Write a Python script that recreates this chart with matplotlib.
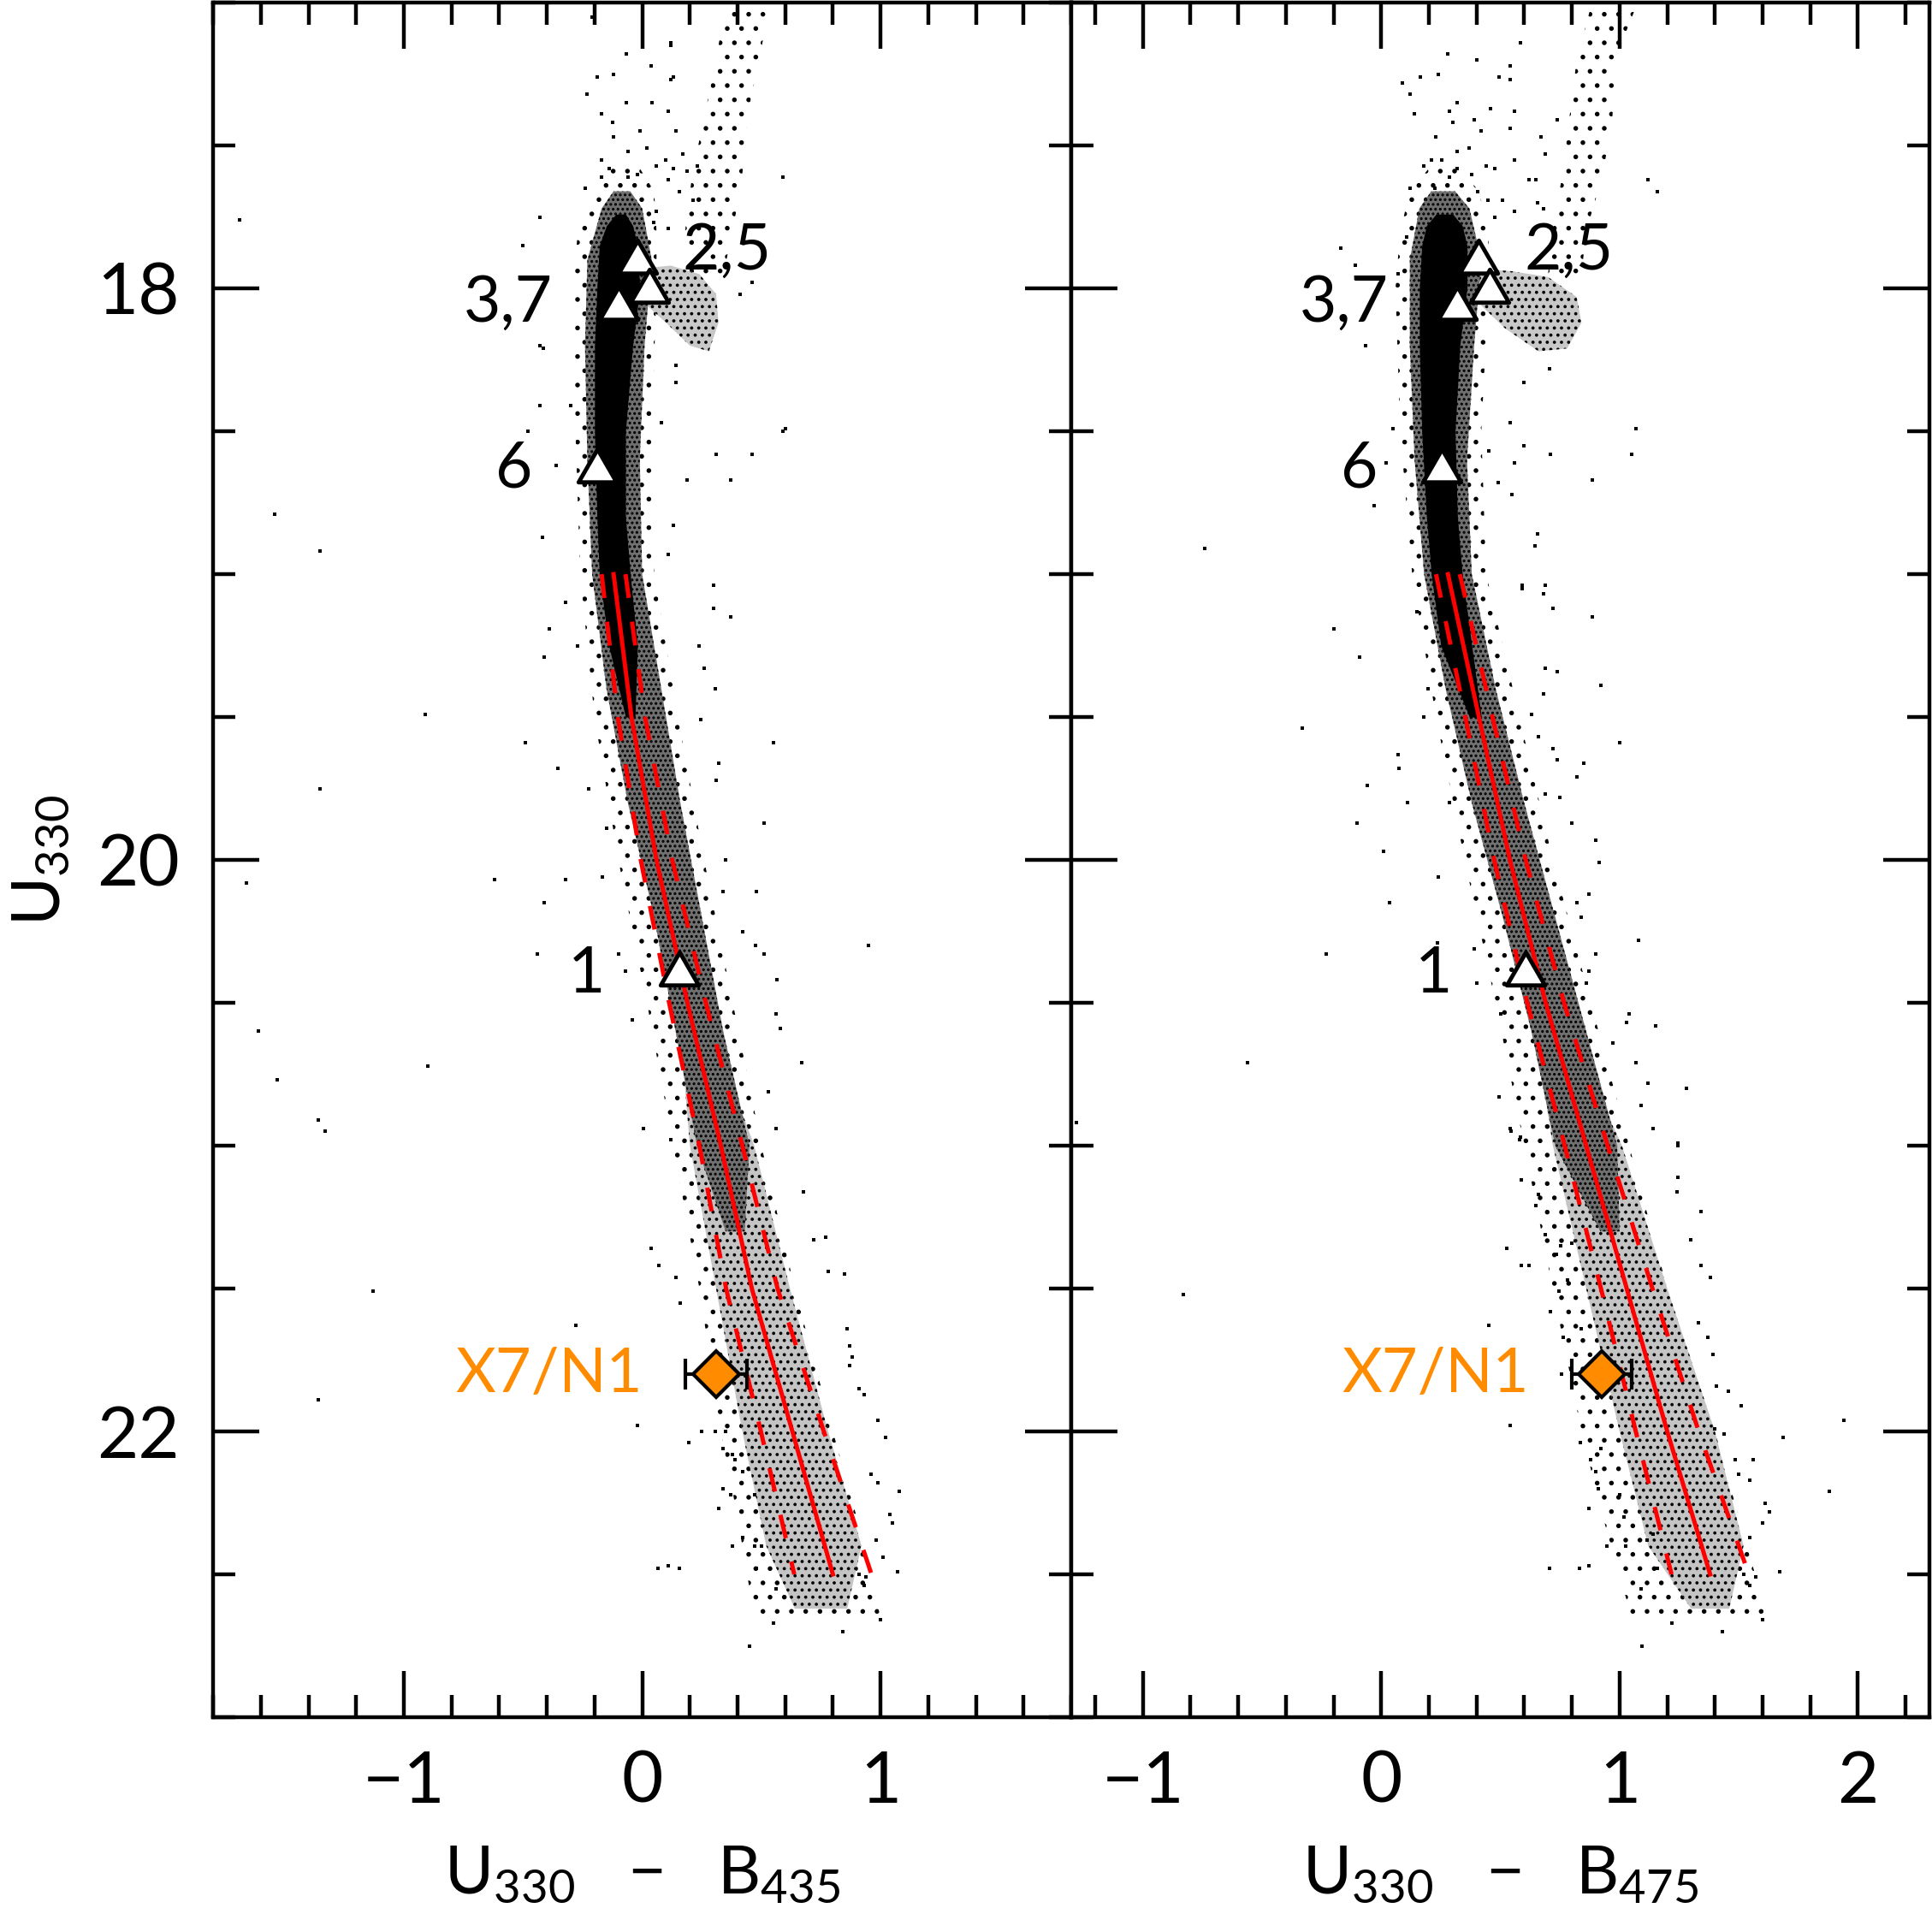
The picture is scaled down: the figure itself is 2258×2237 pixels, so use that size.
import matplotlib
matplotlib.use("Agg")
import matplotlib.pyplot as plt
from matplotlib.path import Path
from matplotlib.ticker import MultipleLocator

plt.rcParams['font.family'] = ['Lato', 'DejaVu Sans']
plt.rcParams['mathtext.fontset'] = 'custom'
plt.rcParams['mathtext.rm'] = 'Lato'
plt.rcParams['mathtext.default'] = 'regular'
plt.rcParams['hatch.linewidth'] = 1.5

ORANGE = '#ff8c00'

# ---------------- data ----------------
# fiducial main-sequence ridge line and its +/- width (dashed)
fid_mag = [19.0, 19.5, 20.0, 20.5, 21.0, 21.5, 22.0, 22.5]
fid_435 = [-0.12, -0.045, 0.06, 0.19, 0.33, 0.46, 0.63, 0.80]
fid_475 = [0.28, 0.41, 0.54, 0.69, 0.86, 1.03, 1.20, 1.38]
fid_width = [0.05, 0.057, 0.066, 0.077, 0.09, 0.108, 0.132, 0.162]

# stellar sequence envelopes: saturated core, dense band, lower band, sparse halo
core_mag = [17.74, 17.78, 17.85, 18.0, 18.2, 18.5, 18.8, 19.0, 19.25, 19.5]
core_lo_435 = [-0.11, -0.15, -0.18, -0.19, -0.20, -0.20, -0.19, -0.18, -0.14, -0.07]
core_hi_435 = [-0.07, -0.04, -0.02, -0.01, -0.04, -0.07, -0.07, -0.05, -0.02, -0.03]
core_lo_475 = [0.23, 0.19, 0.17, 0.16, 0.16, 0.17, 0.19, 0.21, 0.25, 0.37]
core_hi_475 = [0.30, 0.34, 0.36, 0.36, 0.33, 0.31, 0.32, 0.34, 0.38, 0.42]

band_mag = [17.66, 17.72, 17.9, 18.2, 18.6, 19.0, 19.4, 19.8, 20.2, 20.6, 21.0, 21.3]
band_lo_435 = [-0.12, -0.17, -0.23, -0.24, -0.23, -0.21, -0.15, -0.06, 0.05, 0.14, 0.23, 0.35]
band_hi_435 = [-0.05, 0.00, 0.04, 0.01, -0.01, 0.00, 0.08, 0.16, 0.25, 0.34, 0.45, 0.43]
band_lo_475 = [0.21, 0.16, 0.12, 0.12, 0.14, 0.18, 0.27, 0.38, 0.51, 0.63, 0.73, 0.92]
band_hi_475 = [0.31, 0.37, 0.42, 0.39, 0.36, 0.38, 0.48, 0.60, 0.73, 0.86, 0.99, 1.00]

low_mag = [20.5, 21.0, 21.5, 22.0, 22.4, 22.62]
low_lo_435 = [0.15, 0.20, 0.31, 0.42, 0.52, 0.64]
low_hi_435 = [0.25, 0.47, 0.62, 0.78, 0.92, 0.86]
low_lo_475 = [0.63, 0.72, 0.86, 1.00, 1.12, 1.30]
low_hi_475 = [0.74, 1.01, 1.20, 1.40, 1.52, 1.46]

halo_mag = [17.58, 17.66, 17.8, 18.0, 18.5, 19.0, 19.5, 20.0, 20.5, 21.0, 21.5, 22.0, 22.3, 22.65]
halo_lo_435 = [-0.13, -0.21, -0.27, -0.29, -0.28, -0.26, -0.20, -0.10, 0.02, 0.13, 0.24, 0.33, 0.40, 0.47]
halo_hi_435 = [-0.01, 0.05, 0.06, 0.06, 0.04, 0.05, 0.15, 0.26, 0.38, 0.50, 0.64, 0.80, 0.90, 1.00]
halo_lo_475 = [0.20, 0.12, 0.08, 0.06, 0.08, 0.13, 0.23, 0.35, 0.48, 0.60, 0.72, 0.84, 0.93, 1.05]
halo_hi_475 = [0.33, 0.41, 0.45, 0.45, 0.42, 0.44, 0.58, 0.72, 0.88, 1.04, 1.20, 1.40, 1.50, 1.62]

# sub-giant clump outline
sgb_c_435 = [0.00, 0.12, 0.24, 0.31, 0.32, 0.28, 0.20, 0.10, 0.02]
sgb_m_435 = [17.93, 17.92, 17.95, 18.02, 18.12, 18.22, 18.20, 18.12, 18.06]
sgb_c_475 = [0.40, 0.55, 0.70, 0.82, 0.84, 0.78, 0.66, 0.52, 0.42]
sgb_m_475 = [17.93, 17.94, 17.96, 18.03, 18.12, 18.21, 18.22, 18.14, 18.06]

# giant branch band
gb_mag = [16.95, 17.2, 17.4, 17.6, 17.8, 17.95]
gb_lo_435 = [0.36, 0.31, 0.26, 0.21, 0.18, 0.20]
gb_hi_435 = [0.55, 0.49, 0.44, 0.42, 0.38, 0.34]
gb_lo_475 = [0.90, 0.82, 0.79, 0.76, 0.72, 0.70]
gb_hi_475 = [1.10, 0.98, 0.97, 0.93, 0.86, 0.84]

# individual stars outside the envelopes
stars_435 = [
    (-0.066, 17.18), (0.036, 17.22), (0.12, 17.15), (0.13, 17.26), (-0.12, 17.25),
    (-0.19, 17.26), (-0.23, 17.32), (-0.066, 17.35), (0.04, 17.35), (0.11, 17.38),
    (0.14, 17.45), (-0.01, 17.45), (-0.125, 17.42), (-0.17, 17.39), (-0.12, 17.47),
    (0.02, 17.51), (-0.06, 17.52), (0.17, 17.53), (-0.17, 17.55), (-0.14, 17.58),
    (-0.17, 17.61), (-0.06, 17.61), (-0.02, 17.60), (0.06, 17.57), (0.10, 17.55),
    (0.13, 17.58), (0.19, 17.59), (0.23, 17.57), (0.11, 17.62), (0.155, 17.66),
    (0.215, 17.69), (0.06, 17.73), (0.05, 17.77), (0.11, 17.79), (-0.24, 17.65),
    (-0.43, 17.75), (-0.50, 17.85), (0.59, 17.61), (0.60, 18.49), (0.31, 18.58),
    (0.46, 18.58), (0.37, 18.67), (0.19, 18.67), (0.13, 18.83), (0.11, 18.93),
    (-0.42, 18.87), (-0.43, 18.41), (-0.48, 18.50), (-0.43, 18.20), (-0.30, 18.41),
    (-0.36, 18.62), (0.14, 18.27), (0.14, 18.33), (0.08, 18.47), (0.46, 17.98),
    (0.41, 18.02), (-1.69, 17.76), (-0.415, 18.21), (-0.21, 17.05), (0.12, 17.14),
    (0.12, 17.27), (0.59, 18.50),
    (-0.39, 19.19), (-0.41, 19.29), (-0.32, 19.10), (-0.27, 19.25), (-0.355, 19.68),
    (-0.32, 20.07), (-0.41, 20.15), (-0.44, 20.33), (-0.167, 20.06), (-0.225, 19.75),
    (-0.15, 19.89), (0.30, 19.04), (0.30, 19.12), (0.37, 19.15), (0.24, 19.25),
    (0.26, 19.33), (0.305, 19.40), (0.245, 19.51), (0.55, 19.59), (0.32, 19.66),
    (0.31, 19.72), (0.51, 19.87), (0.35, 20.00), (0.48, 20.11), (0.34, 20.11),
    (0.42, 20.25), (0.475, 20.30), (0.51, 20.33), (0.565, 20.42), (0.56, 20.54),
    (0.58, 20.59), (0.67, 20.71), (0.53, 20.81), (0.56, 20.94), (0.006, 20.94),
    (0.12, 20.98), (-0.04, 20.56), (-0.10, 20.33), (-0.07, 20.39),
    (-1.54, 18.79), (-1.35, 18.92), (-0.91, 19.49), (-0.49, 19.59), (-0.62, 20.07),
    (-1.66, 20.08), (-1.35, 19.75), (-1.61, 20.60), (-1.53, 20.77), (-1.36, 20.91),
    (-1.33, 20.95), (-0.90, 20.72), (-1.13, 21.51), (-1.36, 21.89), (0.95, 20.30),
    (0.036, 21.36), (0.07, 21.42), (0.14, 21.46), (0.16, 21.55), (-0.28, 21.63),
    (-0.02, 21.98), (0.195, 22.04), (0.25, 22.00), (0.305, 22.00), (0.35, 22.00),
    (0.34, 22.06), (0.38, 22.08), (0.39, 22.10), (0.42, 22.14), (0.34, 22.20),
    (0.37, 22.22), (0.32, 22.27), (0.47, 22.22), (0.38, 22.40), (0.42, 22.37),
    (0.47, 22.40), (0.50, 22.40), (0.066, 22.48), (0.11, 22.47), (0.155, 22.48),
    (0.48, 22.48), (0.56, 22.55), (0.55, 22.67), (0.45, 22.75), (0.84, 22.70),
    (1.00, 22.66), (0.93, 22.54), (0.91, 22.50), (0.94, 22.51), (1.07, 22.49),
    (1.01, 22.44), (1.08, 22.21), (1.04, 22.29), (1.05, 22.32), (0.99, 22.18),
    (0.96, 22.15), (0.98, 22.38), (1.02, 22.02), (0.99, 21.96), (0.87, 21.77),
    (0.88, 21.74), (0.87, 21.70), (0.86, 21.64), (0.85, 21.45), (0.78, 21.44),
    (0.77, 21.32), (0.72, 21.33), (0.675, 21.16), (0.93, 21.87), (0.91, 21.85),
]
stars_475 = [
    (0.09, 17.28), (0.165, 17.26), (0.24, 17.25), (0.28, 17.18), (0.40, 17.20),
    (0.495, 17.26), (0.54, 17.27), (0.54, 17.22), (0.585, 17.14), (0.12, 17.32),
    (0.14, 17.39), (0.285, 17.38), (0.32, 17.35), (0.39, 17.41), (0.46, 17.37),
    (0.56, 17.38), (0.54, 17.44), (0.42, 17.45), (0.30, 17.42), (0.23, 17.47),
    (0.37, 17.51), (0.32, 17.52), (0.255, 17.55), (0.21, 17.55), (0.18, 17.57),
    (0.285, 17.61), (0.32, 17.58), (0.38, 17.60), (0.44, 17.57), (0.477, 17.58),
    (0.56, 17.55), (0.62, 17.62), (0.65, 17.62), (0.687, 17.53), (0.67, 17.47),
    (0.74, 17.41), (0.12, 17.65), (0.225, 17.65), (0.405, 17.66), (0.447, 17.69),
    (0.507, 17.69), (0.477, 17.75), (0.56, 17.73), (0.657, 17.70), (0.68, 17.72),
    (0.105, 17.82), (-0.17, 17.86), (-0.11, 17.92), (0.07, 17.95), (-0.065, 18.20),
    (1.12, 17.62), (1.16, 17.66), (1.07, 18.49), (1.05, 18.58), (0.885, 18.67),
    (0.71, 18.58), (0.60, 18.55), (0.54, 18.47), (0.60, 18.33), (0.705, 18.28),
    (0.657, 18.86), (0.645, 18.90), (0.59, 19.04), (0.69, 19.04), (0.05, 18.49),
    (0.02, 18.61), (-0.03, 18.76), (0.45, 18.57), (0.49, 18.68), (0.55, 18.72),
    (0.56, 18.61),
    (-0.197, 19.19), (-0.09, 19.29), (-0.10, 19.87), (0.034, 20.15), (0.076, 19.68),
    (0.11, 19.80), (0.24, 20.06), (0.18, 19.50), (0.15, 19.13), (0.195, 19.40),
    (0.285, 19.80), (0.235, 20.29), (0.39, 20.31), (0.40, 20.43), (0.50, 20.54),
    (0.495, 20.83), (0.54, 20.94), (0.585, 20.97), (0.59, 19.05), (0.68, 19.07),
    (0.72, 19.12), (0.885, 19.15), (0.69, 19.33), (0.74, 19.34), (0.92, 19.39),
    (0.68, 19.42), (0.63, 19.49), (0.66, 19.57), (1.00, 19.59), (0.72, 19.61),
    (0.74, 19.65), (0.85, 19.66), (0.82, 19.71), (0.75, 19.78), (0.69, 19.77),
    (0.80, 19.87), (0.90, 19.93), (0.915, 20.01), (0.82, 20.15), (0.87, 20.12),
    (0.84, 20.20), (1.08, 20.28), (0.90, 20.33), (0.87, 20.39), (0.86, 20.43),
    (1.04, 20.54), (1.15, 20.58), (1.03, 20.57), (1.07, 20.71), (1.12, 20.78),
    (1.28, 20.80), (1.09, 20.86), (1.245, 20.99), (0.97, 20.64), (-0.23, 20.33),
    (-1.28, 20.92), (-0.83, 21.52), (-0.74, 18.91), (-0.56, 20.71), (-0.33, 19.54),
    (-0.06, 19.74), (0.01, 19.97), (0.07, 19.63), (1.94, 21.96), (1.61, 22.25),
    (0.545, 20.95), (0.58, 20.98), (0.587, 21.12), (0.66, 21.17), (0.65, 21.21),
    (0.69, 21.31), (0.527, 21.36), (0.587, 21.42), (0.62, 21.42), (0.735, 21.38),
    (0.753, 21.35), (0.80, 21.34), (0.78, 21.47), (0.745, 21.51), (0.71, 21.58),
    (0.765, 21.67), (0.84, 21.64), (0.45, 21.63), (0.755, 21.80), (0.54, 21.98),
    (0.835, 22.04), (0.92, 22.06), (0.88, 22.10), (0.90, 22.14), (0.91, 22.20),
    (0.87, 22.27), (0.999, 22.22), (1.02, 22.30), (0.945, 22.40), (1.025, 22.40),
    (0.705, 22.48), (0.83, 22.48), (0.87, 22.47), (1.09, 22.55), (1.16, 22.48),
    (1.115, 22.38), (1.14, 22.36), (1.22, 22.67), (1.095, 22.75), (1.43, 22.70),
    (1.60, 22.66), (1.545, 22.54), (1.57, 22.51), (1.52, 22.50), (1.67, 22.49),
    (1.63, 22.28), (1.60, 22.32), (1.545, 22.37), (1.545, 22.17), (1.50, 22.15),
    (1.56, 22.10), (1.485, 22.10), (1.88, 22.21), (1.685, 22.02), (1.51, 21.91),
    (1.44, 22.01), (1.40, 21.99), (1.455, 21.86), (1.405, 21.84), (1.39, 21.73),
    (1.37, 21.67), (1.33, 21.62), (1.34, 21.42), (1.38, 21.46), (1.34, 21.23),
    (1.30, 21.33), (1.245, 21.00), (1.245, 21.11), (1.24, 21.16), (1.14, 20.94),
]

# comparison stars (white triangles) and their labels
tri_mag = [20.38, 17.89, 18.05, 17.99, 18.62, 18.05]
tri_435 = [0.155, -0.02, -0.10, 0.03, -0.19, -0.10]
tri_475 = [0.605, 0.41, 0.32, 0.455, 0.255, 0.32]
lab_text = ['1', '2,5', '3,7', '6']
lab_mag = [20.40, 17.87, 18.05, 18.63]
lab_435 = [-0.155, 0.17, -0.376, -0.46]
lab_475 = [0.30, 0.60, 0.03, -0.015]
lab_ha = ['right', 'left', 'right', 'right']

# X7/N1 counterpart
x7_mag = 21.80
x7_435, x7_err_435 = 0.31, 0.13
x7_475, x7_err_475 = 0.925, 0.125
x7_lab_435 = 0.0
x7_lab_475 = 0.62

# ---------------- figure ----------------
fig = plt.figure(figsize=(22.58, 22.37), dpi=100)
axL = fig.add_axes([0.1103, 0.1028, 0.4442, 0.8958])
axR = fig.add_axes([0.5545, 0.1028, 0.4442, 0.8958])

tri_marker = Path([(0, 0.866), (-1, -0.866), (1, -0.866), (0, 0.866)],
                  [Path.MOVETO, Path.LINETO, Path.LINETO, Path.CLOSEPOLY])


def draw_panel(ax, xlim, core_lo, core_hi, band_lo, band_hi, low_lo, low_hi,
               halo_lo, halo_hi, sgb_c, sgb_m, gb_lo, gb_hi, stars, fid, tri_c,
               lab_c, x7_c, x7_err, x7_lab, xlabel):
    # star cloud, from the sparse outskirts to the saturated core
    ax.fill_betweenx(halo_mag, halo_lo, halo_hi, facecolor='none', edgecolor='k',
                     hatch='.', linewidth=0, zorder=1)
    ax.fill_betweenx(gb_mag, gb_lo, gb_hi, facecolor='none', edgecolor='k',
                     hatch='.', linewidth=0, zorder=1)
    ax.fill(sgb_c, sgb_m, facecolor='#c8c8c8', edgecolor='k', hatch='..',
            linewidth=0, zorder=1)
    ax.fill_betweenx(low_mag, low_lo, low_hi, facecolor='#c4c4c4', edgecolor='k',
                     hatch='..', linewidth=0, zorder=1)
    ax.fill_betweenx(band_mag, band_lo, band_hi, facecolor='#707070', edgecolor='k',
                     hatch='...', linewidth=0, zorder=1)
    ax.fill_betweenx(core_mag, core_lo, core_hi, facecolor='k', edgecolor='k',
                     linewidth=0, zorder=1)
    ax.plot([s[0] for s in stars], [s[1] for s in stars], 's', color='k',
            ms=2.6, mew=0, zorder=2)

    # fiducial line and width
    lo = [f - w for f, w in zip(fid, fid_width)]
    hi = [f + w for f, w in zip(fid, fid_width)]
    ax.plot(fid, fid_mag, '-', color='red', lw=3.6, zorder=3)
    for edge in (lo, hi):
        ax.plot(edge, fid_mag, color='red', lw=3.6, zorder=3, dashes=(5.6, 5.6))

    # comparison stars
    for c, m in zip(tri_c, tri_mag):
        ax.plot(c, m, marker=tri_marker, ms=32, mfc='white', mec='k', mew=3.5,
                ls='none', zorder=4)
    for t, c, m, ha in zip(lab_text, lab_c, lab_mag, lab_ha):
        ax.text(c, m, t, ha=ha, va='center', fontsize=54, zorder=5)

    # X7/N1
    ax.errorbar(x7_c, x7_mag, xerr=x7_err, fmt='none', ecolor='k', elinewidth=3,
                capsize=13, capthick=3, zorder=5)
    ax.plot(x7_c, x7_mag, 'D', ms=27, mfc=ORANGE, mec='k', mew=3, zorder=6)
    ax.text(x7_lab, x7_mag, 'X7/N1', ha='right', va='center', fontsize=52,
            color=ORANGE, zorder=6)

    ax.set_xlim(*xlim)
    ax.set_ylim(23, 17)
    ax.xaxis.set_major_locator(MultipleLocator(1))
    ax.xaxis.set_minor_locator(MultipleLocator(0.2))
    ax.yaxis.set_major_locator(MultipleLocator(2))
    ax.yaxis.set_minor_locator(MultipleLocator(0.5))
    ax.tick_params(which='both', direction='in', top=True, right=True, width=3.2)
    ax.tick_params(which='major', length=39, labelsize=60, pad=28)
    ax.tick_params(which='minor', length=19)
    for sp in ax.spines.values():
        sp.set_linewidth(3.2)
    ax.set_xlabel(xlabel, fontsize=56, labelpad=24)


draw_panel(axL, (-1.8, 1.8), core_lo_435, core_hi_435, band_lo_435, band_hi_435,
           low_lo_435, low_hi_435, halo_lo_435, halo_hi_435, sgb_c_435, sgb_m_435,
           gb_lo_435, gb_hi_435, stars_435, fid_435, tri_435, lab_435,
           x7_435, x7_err_435, x7_lab_435, 'U$_{330}$   \u2212   B$_{435}$')
draw_panel(axR, (-1.3, 2.3), core_lo_475, core_hi_475, band_lo_475, band_hi_475,
           low_lo_475, low_hi_475, halo_lo_475, halo_hi_475, sgb_c_475, sgb_m_475,
           gb_lo_475, gb_hi_475, stars_475, fid_475, tri_475, lab_475,
           x7_475, x7_err_475, x7_lab_475, 'U$_{330}$   \u2212   B$_{475}$')

axR.tick_params(labelleft=False)
axL.set_ylabel('U$_{330}$', fontsize=56, labelpad=22)

fig.savefig('out.png', dpi=100)
